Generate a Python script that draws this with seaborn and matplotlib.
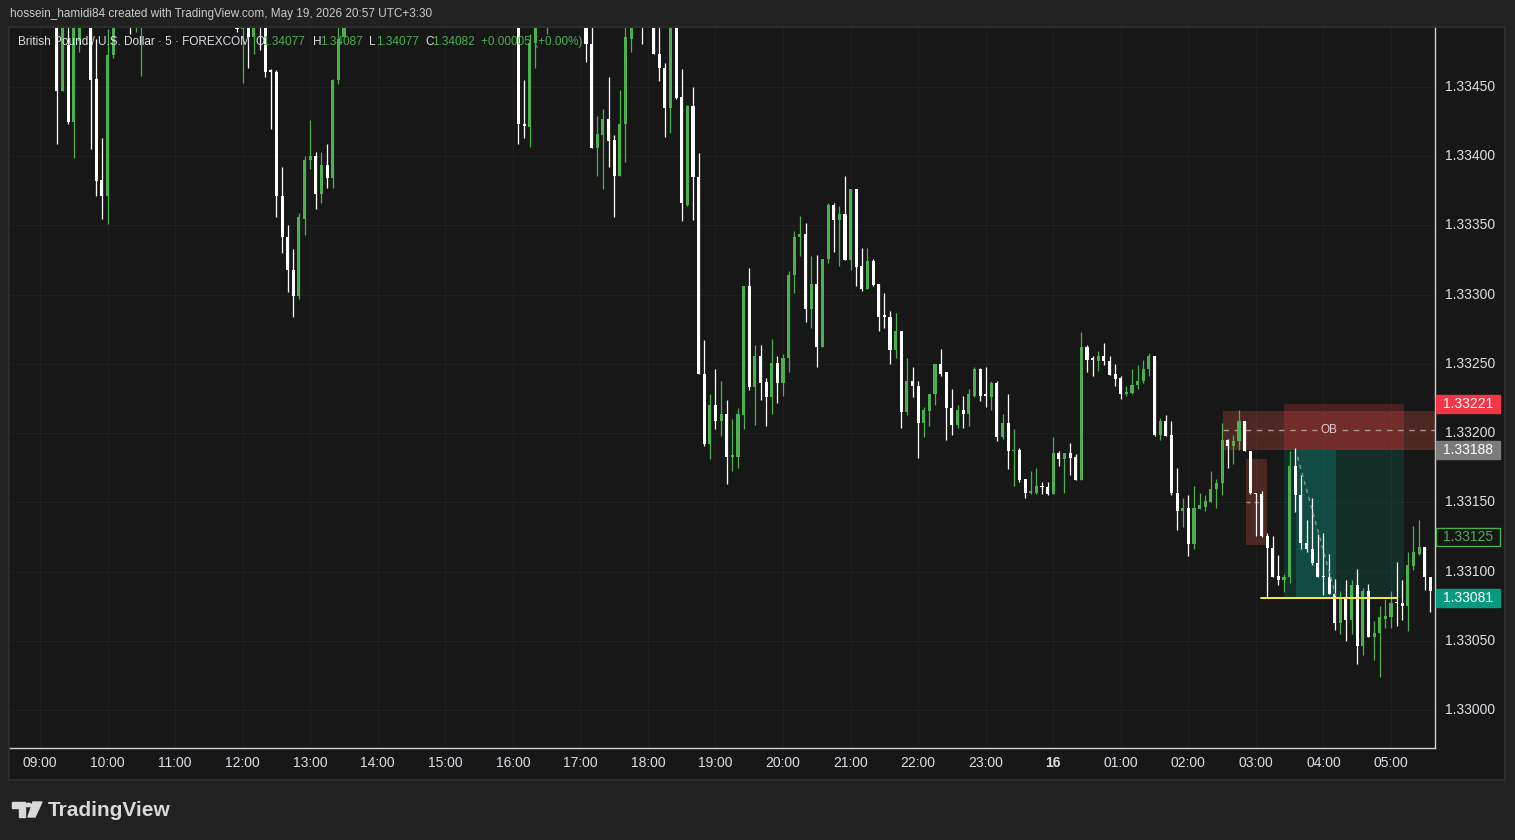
import matplotlib
matplotlib.use("Agg")
import numpy as np
import pandas as pd
import seaborn as sns
import matplotlib.pyplot as plt
from matplotlib.patches import Rectangle, Polygon, Circle

# ---- candle data (5 minute bars, bar 0 = 09:00) ----
# bars that sit fully above the visible price range are left out
bar_idx = ([3, 4, 5, 6, 7, 9, 10, 11, 12, 13, 16, 17, 18]
           + list(range(35, 55))
           + [85, 86, 87, 88, 90]
           + list(range(97, 106))
           + [107]
           + list(range(109, 248)))

opens = [
    1.33520, 1.33447, 1.33480, 1.33425, 1.33483, 1.33520, 1.33456, 1.33383, 1.33371, 1.33473, 1.33520, 1.33505, 1.33500,
    1.33510, 1.33492, 1.33520, 1.33486, 1.33520, 1.33520, 1.33462, 1.33461, 1.33371, 1.33342,
    1.33318, 1.33299, 1.33355, 1.33397, 1.33400, 1.33373, 1.33394, 1.33384, 1.33455, 1.33486,
    1.33520, 1.33423, 1.33421, 1.33482, 1.33500,
    1.33520, 1.33481, 1.33406, 1.33415, 1.33427, 1.33412, 1.33386, 1.33423, 1.33485,
    1.33520,
    1.33520, 1.33474, 1.33464, 1.33435, 1.33520, 1.33443, 1.33365, 1.33436, 1.33385, 1.33243,
    1.33192, 1.33220, 1.33209, 1.33214, 1.33183, 1.33183, 1.33213, 1.33306, 1.33233, 1.33256,
    1.33237, 1.33226, 1.33251, 1.33236, 1.33254, 1.33314, 1.33342, 1.33344, 1.33290, 1.33308,
    1.33262, 1.33326, 1.33365, 1.33354, 1.33358, 1.33325, 1.33376, 1.33321, 1.33304, 1.33324,
    1.33308, 1.33285, 1.33284, 1.33260, 1.33274, 1.33215, 1.33238, 1.33234, 1.33207, 1.33216,
    1.33228, 1.33250, 1.33244, 1.33218, 1.33206, 1.33217, 1.33214, 1.33227, 1.33246, 1.33228,
    1.33226, 1.33236, 1.33197, 1.33207, 1.33187, 1.33188, 1.33167, 1.33157, 1.33157, 1.33162,
    1.33161, 1.33156, 1.33186, 1.33181, 1.33186, 1.33183, 1.33166, 1.33262, 1.33254, 1.33252,
    1.33256, 1.33252, 1.33243, 1.33240, 1.33228, 1.33229, 1.33235, 1.33238, 1.33246, 1.33256,
    1.33199, 1.33209, 1.33199, 1.33157, 1.33144, 1.33146, 1.33120, 1.33145, 1.33147, 1.33150,
    1.33160, 1.33164, 1.33195, 1.33191, 1.33194, 1.33209, 1.33187, 1.33157, 1.33156, 1.33126,
    1.33117, 1.33097, 1.33094, 1.33096, 1.33176, 1.33155, 1.33121, 1.33116, 1.33106, 1.33097,
    1.33096, 1.33084, 1.33063, 1.33082, 1.33065, 1.33090, 1.33046, 1.33086, 1.33053, 1.33056,
    1.33066, 1.33067, 1.33078, 1.33077, 1.33075, 1.33104, 1.33113, 1.33118, 1.33096,
]
highs = [
    1.33540, 1.33540, 1.33520, 1.33540, 1.33540, 1.33540, 1.33485, 1.33413, 1.33492, 1.33540, 1.33540, 1.33540, 1.33540,
    1.33540, 1.33540, 1.33540, 1.33540, 1.33540, 1.33540, 1.33463, 1.33462, 1.33392, 1.33350,
    1.33333, 1.33359, 1.33400, 1.33426, 1.33403, 1.33403, 1.33409, 1.33456, 1.33540, 1.33540,
    1.33540, 1.33455, 1.33488, 1.33540, 1.33540,
    1.33540, 1.33540, 1.33429, 1.33434, 1.33457, 1.33415, 1.33448, 1.33540, 1.33540,
    1.33540,
    1.33540, 1.33540, 1.33467, 1.33540, 1.33540, 1.33463, 1.33437, 1.33450, 1.33402, 1.33267,
    1.33228, 1.33246, 1.33238, 1.33224, 1.33210, 1.33218, 1.33306, 1.33319, 1.33264, 1.33264,
    1.33240, 1.33268, 1.33256, 1.33257, 1.33317, 1.33346, 1.33357, 1.33352, 1.33328, 1.33329,
    1.33326, 1.33366, 1.33366, 1.33364, 1.33386, 1.33376, 1.33376, 1.33334, 1.33334, 1.33326,
    1.33308, 1.33301, 1.33288, 1.33287, 1.33274, 1.33254, 1.33248, 1.33238, 1.33219, 1.33228,
    1.33250, 1.33261, 1.33244, 1.33232, 1.33220, 1.33227, 1.33232, 1.33248, 1.33247, 1.33248,
    1.33238, 1.33238, 1.33214, 1.33228, 1.33203, 1.33189, 1.33167, 1.33173, 1.33175, 1.33165,
    1.33165, 1.33197, 1.33187, 1.33186, 1.33193, 1.33185, 1.33273, 1.33264, 1.33256, 1.33259,
    1.33265, 1.33256, 1.33250, 1.33241, 1.33234, 1.33246, 1.33249, 1.33253, 1.33258, 1.33256,
    1.33211, 1.33213, 1.33209, 1.33175, 1.33153, 1.33155, 1.33162, 1.33157, 1.33155, 1.33173,
    1.33167, 1.33207, 1.33196, 1.33199, 1.33217, 1.33209, 1.33187, 1.33157, 1.33158, 1.33128,
    1.33126, 1.33112, 1.33098, 1.33187, 1.33189, 1.33170, 1.33137, 1.33153, 1.33127, 1.33128,
    1.33113, 1.33095, 1.33086, 1.33094, 1.33094, 1.33102, 1.33088, 1.33091, 1.33064, 1.33075,
    1.33080, 1.33086, 1.33107, 1.33094, 1.33114, 1.33133, 1.33137, 1.33118, 1.33096,
]
lows = [
    1.33409, 1.33447, 1.33423, 1.33399, 1.33475, 1.33405, 1.33371, 1.33355, 1.33351, 1.33471, 1.33488, 1.33490, 1.33458,
    1.33490, 1.33453, 1.33464, 1.33474, 1.33477, 1.33457, 1.33420, 1.33356, 1.33330, 1.33302,
    1.33284, 1.33297, 1.33343, 1.33391, 1.33362, 1.33366, 1.33377, 1.33377, 1.33452, 1.33486,
    1.33409, 1.33413, 1.33407, 1.33464, 1.33488,
    1.33468, 1.33406, 1.33386, 1.33376, 1.33392, 1.33356, 1.33386, 1.33396, 1.33475,
    1.33481,
    1.33474, 1.33454, 1.33414, 1.33417, 1.33441, 1.33353, 1.33364, 1.33354, 1.33243, 1.33191,
    1.33181, 1.33203, 1.33198, 1.33163, 1.33173, 1.33175, 1.33203, 1.33231, 1.33206, 1.33224,
    1.33205, 1.33214, 1.33222, 1.33227, 1.33244, 1.33301, 1.33328, 1.33280, 1.33276, 1.33248,
    1.33262, 1.33323, 1.33331, 1.33321, 1.33325, 1.33318, 1.33306, 1.33303, 1.33304, 1.33306,
    1.33274, 1.33276, 1.33250, 1.33254, 1.33204, 1.33213, 1.33226, 1.33182, 1.33197, 1.33205,
    1.33220, 1.33241, 1.33195, 1.33199, 1.33204, 1.33204, 1.33205, 1.33226, 1.33223, 1.33219,
    1.33217, 1.33194, 1.33196, 1.33174, 1.33162, 1.33165, 1.33153, 1.33156, 1.33156, 1.33156,
    1.33155, 1.33156, 1.33176, 1.33157, 1.33170, 1.33166, 1.33166, 1.33244, 1.33241, 1.33245,
    1.33249, 1.33242, 1.33234, 1.33225, 1.33227, 1.33228, 1.33232, 1.33236, 1.33241, 1.33198,
    1.33195, 1.33198, 1.33155, 1.33130, 1.33132, 1.33111, 1.33116, 1.33145, 1.33144, 1.33150,
    1.33146, 1.33155, 1.33175, 1.33178, 1.33188, 1.33187, 1.33156, 1.33126, 1.33125, 1.33081,
    1.33096, 1.33090, 1.33085, 1.33092, 1.33143, 1.33116, 1.33114, 1.33105, 1.33096, 1.33083,
    1.33084, 1.33058, 1.33055, 1.33050, 1.33055, 1.33033, 1.33040, 1.33053, 1.33036, 1.33024,
    1.33059, 1.33059, 1.33061, 1.33065, 1.33057, 1.33101, 1.33112, 1.33087, 1.33071,
]
closes = [
    1.33447, 1.33520, 1.33425, 1.33520, 1.33520, 1.33455, 1.33382, 1.33371, 1.33473, 1.33520, 1.33500, 1.33520, 1.33520,
    1.33492, 1.33520, 1.33486, 1.33520, 1.33500, 1.33461, 1.33461, 1.33371, 1.33342, 1.33318,
    1.33299, 1.33356, 1.33397, 1.33400, 1.33373, 1.33394, 1.33384, 1.33455, 1.33485, 1.33520,
    1.33423, 1.33422, 1.33482, 1.33520, 1.33520,
    1.33481, 1.33406, 1.33416, 1.33427, 1.33411, 1.33386, 1.33423, 1.33486, 1.33520,
    1.33500,
    1.33474, 1.33464, 1.33435, 1.33520, 1.33442, 1.33366, 1.33436, 1.33385, 1.33243, 1.33192,
    1.33220, 1.33209, 1.33214, 1.33183, 1.33184, 1.33214, 1.33306, 1.33233, 1.33256, 1.33236,
    1.33226, 1.33251, 1.33236, 1.33254, 1.33314, 1.33342, 1.33344, 1.33290, 1.33308, 1.33262,
    1.33326, 1.33365, 1.33354, 1.33358, 1.33325, 1.33376, 1.33320, 1.33304, 1.33324, 1.33307,
    1.33284, 1.33284, 1.33260, 1.33274, 1.33215, 1.33238, 1.33234, 1.33207, 1.33217, 1.33228,
    1.33250, 1.33243, 1.33218, 1.33206, 1.33217, 1.33214, 1.33228, 1.33246, 1.33227, 1.33227,
    1.33236, 1.33197, 1.33207, 1.33187, 1.33188, 1.33166, 1.33157, 1.33158, 1.33162, 1.33161,
    1.33156, 1.33186, 1.33181, 1.33186, 1.33182, 1.33166, 1.33262, 1.33253, 1.33253, 1.33256,
    1.33252, 1.33242, 1.33239, 1.33228, 1.33230, 1.33235, 1.33238, 1.33246, 1.33256, 1.33199,
    1.33209, 1.33198, 1.33157, 1.33144, 1.33146, 1.33120, 1.33146, 1.33148, 1.33151, 1.33160,
    1.33164, 1.33195, 1.33191, 1.33194, 1.33209, 1.33187, 1.33157, 1.33156, 1.33126, 1.33117,
    1.33096, 1.33094, 1.33096, 1.33176, 1.33155, 1.33121, 1.33116, 1.33106, 1.33096, 1.33096,
    1.33084, 1.33063, 1.33082, 1.33065, 1.33090, 1.33046, 1.33086, 1.33053, 1.33056, 1.33067,
    1.33068, 1.33077, 1.33077, 1.33075, 1.33105, 1.33114, 1.33118, 1.33096, 1.33086,
]

# axis labels
hour_bars = list(range(0, 241, 12))
hour_labels = ["09:00", "10:00", "11:00", "12:00", "13:00", "14:00", "15:00", "16:00",
               "17:00", "18:00", "19:00", "20:00", "21:00", "22:00", "23:00", "16",
               "01:00", "02:00", "03:00", "04:00", "05:00"]
price_ticks = [1.33000, 1.33050, 1.33100, 1.33150, 1.33200,
               1.33250, 1.33300, 1.33350, 1.33400, 1.33450]

# drawings on the chart
ob_zone = (210.2, 1.33188, 1.33216)          # start bar, bottom, top
fvg_box = (214.3, 217.9, 1.33119, 1.33181)   # left bar, right bar, bottom, top
pos_bars = (221.0, 242.3)
pos_fill_bars = (223.1, 230.2)
sl_price, entry_price, tp_price = 1.33221, 1.33188, 1.33081
tp_line_bars = (216.9, 241.1)
alert_price = 1.33125

header = "hossein_hamidi84 created with TradingView.com, May 19, 2026 20:57 UTC+3:30"
symbol_title = "British Pound / U.S. Dollar · 5 · FOREXCOM"
ohlc_keys = ["O", "H", "L", "C"]
ohlc_vals = ["1.34077", "1.34087", "1.34077", "1.34082"]
change_text = "+0.00005 (+0.00%)"

BG_OUT = "#212121"
BG = "#171717"
UP = "#4caf50"
DOWN = "#ffffff"
TXT = "#dcdfe6"

W, H = 1515, 840
X0, X1, Y0, Y1 = 10, 1435, 28, 748
XMIN, XMAX = -5.33, 247.82
YMIN, YMAX = 1.329726, 1.334926


def fx(x):
    return x / W


def fy(y):
    return 1 - y / H


sns.set_theme(style="dark", rc={"axes.facecolor": BG, "figure.facecolor": BG_OUT})
plt.rcParams["font.family"] = ["Liberation Sans", "DejaVu Sans"]

fig = plt.figure(figsize=(W / 100, H / 100), dpi=100)
fig.patch.set_facecolor(BG_OUT)

# chart panel
fig.add_artist(Rectangle((fx(9), fy(780)), fx(1505) - fx(9), fy(27) - fy(780),
                         transform=fig.transFigure, facecolor=BG,
                         edgecolor="#2c2c2c", lw=1.5, zorder=-5))

ax = fig.add_axes([fx(X0), fy(Y1), fx(X1) - fx(X0), fy(Y0) - fy(Y1)])
ax.set_facecolor(BG)
ax.set_xlim(XMIN, XMAX)
ax.set_ylim(YMIN, YMAX)
ax.set_xticks(hour_bars)
ax.set_yticks(price_ticks)
ax.grid(True, color="#1f1f1f", lw=0.8)
ax.tick_params(length=0, labelbottom=False, labelleft=False)
for side in ["top", "left"]:
    ax.spines[side].set_visible(False)
for side in ["bottom", "right"]:
    ax.spines[side].set_color("#cfcfcf")
    ax.spines[side].set_linewidth(1)

ppp = (Y1 - Y0) / (YMAX - YMIN)     # pixels per price unit

# ---- zones ----
ax.add_patch(Rectangle((ob_zone[0], ob_zone[1]), XMAX + 5 - ob_zone[0], ob_zone[2] - ob_zone[1],
                       facecolor="#8c4030", alpha=0.45, lw=0, zorder=1))
ax.add_patch(Rectangle((fvg_box[0], fvg_box[2]), fvg_box[1] - fvg_box[0], fvg_box[3] - fvg_box[2],
                       facecolor="#8c4030", alpha=0.45, lw=0, zorder=1))
fvg_mid = (fvg_box[2] + fvg_box[3]) / 2
ax.plot([fvg_box[0], fvg_box[1] - 1], [fvg_mid, fvg_mid], color="#a09090",
        ls=(0, (3, 3)), lw=1, zorder=2)

ax.add_patch(Rectangle((pos_bars[0], entry_price), pos_bars[1] - pos_bars[0], sl_price - entry_price,
                       facecolor="#f23645", alpha=0.24, lw=0, zorder=1))
ax.add_patch(Rectangle((pos_bars[0], tp_price), pos_bars[1] - pos_bars[0], entry_price - tp_price,
                       facecolor="#089981", alpha=0.19, lw=0, zorder=1))
ax.add_patch(Rectangle((pos_fill_bars[0], tp_price), pos_fill_bars[1] - pos_fill_bars[0],
                       entry_price - tp_price, facecolor="#089981", alpha=0.28, lw=0, zorder=1))

# OB dashed mid line with label
ob_mid = (ob_zone[1] + ob_zone[2]) / 2
ob_label_x = (ob_zone[0] + XMAX) / 2
ax.plot([ob_zone[0], ob_label_x - 2.2], [ob_mid, ob_mid], color="#a8948f", ls=(0, (4, 4)), lw=1, zorder=2)
ax.plot([ob_label_x + 2.2, XMAX], [ob_mid, ob_mid], color="#a8948f", ls=(0, (4, 4)), lw=1, zorder=2)
ax.text(ob_label_x, ob_mid, "OB", color="#e6cfcc", fontsize=8.5, ha="center", va="center", zorder=5)

# ---- candles ----
df = pd.DataFrame({"bar": bar_idx, "open": opens, "high": highs, "low": lows, "close": closes})
df["color"] = np.where(df["close"] >= df["open"], UP, DOWN)
body_lo = df[["open", "close"]].min(axis=1)
body_h = (df["close"] - df["open"]).abs().clip(lower=1.0 / ppp)
ax.vlines(df["bar"], df["low"], df["high"], colors=df["color"], lw=0.9, zorder=3)
ax.bar(df["bar"], body_h, bottom=body_lo, width=0.55, color=df["color"], lw=0, zorder=3)

# trade path and take profit line
ax.plot([pos_fill_bars[0] + 0.3, pos_fill_bars[1]], [entry_price - 7 / ppp, tp_price + 2 / ppp],
        color="#7d9690", ls=(0, (3, 3)), lw=1, zorder=4)
ax.plot(tp_line_bars, [tp_price, tp_price], color="#ffeb3b", lw=1.4, zorder=4)

# ---- price axis (right) ----
ytr = ax.get_yaxis_transform()
axw = X1 - X0
for p in price_ticks:
    ax.text(1 + 35 / axw, p, f"{p:.5f}", transform=ytr, ha="center", va="center",
            color=TXT, fontsize=10, clip_on=False)


def price_tag(price, face, text_color, edge=None):
    ax.add_patch(Rectangle((1 + 1 / axw, price - 9 / ppp), 64 / axw, 18 / ppp, transform=ytr,
                           facecolor=face, edgecolor=edge or face, lw=1, clip_on=False, zorder=6))
    ax.text(1 + 33 / axw, price, f"{price:.5f}", transform=ytr, ha="center", va="center",
            color=text_color, fontsize=10, clip_on=False, zorder=7)


price_tag(sl_price, "#f23645", "#ffffff")
price_tag(entry_price, "#7b7b7b", "#ffffff")
price_tag(alert_price, BG, UP, edge=UP)
price_tag(tp_price, "#089981", "#ffffff")

# ---- time axis ----
xtr = ax.get_xaxis_transform()
for b, lab in zip(hour_bars, hour_labels):
    ax.text(b, -15 / (Y1 - Y0), lab, transform=xtr, ha="center", va="center", color=TXT,
            fontsize=10, fontweight="bold" if lab == "16" else "normal", clip_on=False)

# ---- header & legend ----
fig.text(fx(10), fy(14), header, color="#cccccc", fontsize=8.5, va="center")
fig.text(fx(18), fy(42), symbol_title, color=TXT, fontsize=8.5, va="center")
key_x = [255, 313, 369, 425]
for kx, k, v in zip(key_x, ohlc_keys, ohlc_vals):
    fig.text(fx(kx), fy(42), k, color=TXT, fontsize=8.5, va="center")
    fig.text(fx(kx + 7), fy(42), v, color=UP, fontsize=8.5, va="center")
fig.text(fx(481), fy(42), change_text, color=UP, fontsize=8.5, va="center")

# ---- TradingView logo ----
logo_c = "#d9d9d9"
fig.add_artist(Polygon([(fx(12), fy(802)), (fx(25), fy(802)), (fx(25), fy(817)),
                        (fx(19), fy(817)), (fx(19), fy(808)), (fx(12), fy(808))],
                       closed=True, transform=fig.transFigure, color=logo_c))
fig.add_artist(Circle((fx(28.5), fy(805)), 3 / W, transform=fig.transFigure, color=logo_c))
fig.add_artist(Polygon([(fx(33), fy(802)), (fx(42), fy(802)), (fx(35), fy(817)), (fx(28), fy(817))],
                       closed=True, transform=fig.transFigure, color=logo_c))
fig.text(fx(48), fy(810), "TradingView", color=logo_c, fontsize=15, fontweight="bold", va="center")

fig.savefig("out.png", dpi=100, facecolor=fig.get_facecolor())
